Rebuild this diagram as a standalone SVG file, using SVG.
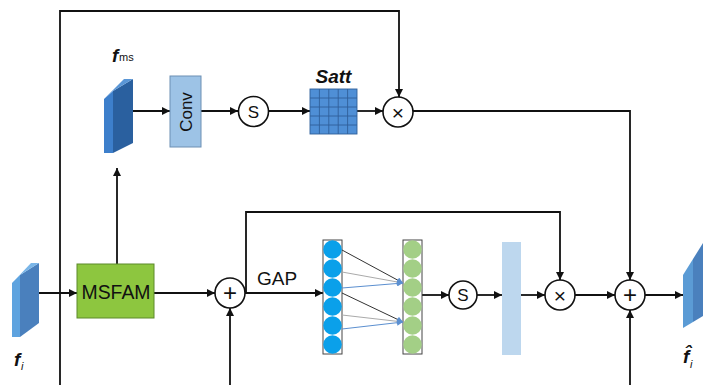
<svg xmlns="http://www.w3.org/2000/svg" width="703" height="385" viewBox="0 0 703 385">
<defs>
<marker id="ah" viewBox="0 0 10 10" refX="10" refY="5" markerUnits="userSpaceOnUse" markerWidth="9" markerHeight="8" orient="auto"><path d="M0,0 L10,5 L0,10 z" fill="#111"/></marker>
<marker id="ahb" viewBox="0 0 10 10" refX="10" refY="5" markerUnits="userSpaceOnUse" markerWidth="8" markerHeight="6" orient="auto"><path d="M0,0 L10,5 L0,10 z" fill="#5b8fd0"/></marker>
</defs>
<style>
.ln{fill:none;stroke:#111;stroke-width:1.8}
.arr{marker-end:url(#ah)}
.op{fill:#fff;stroke:#111;stroke-width:1.6}
.opt{font-family:"Liberation Sans",Arial,sans-serif;fill:#111;text-anchor:middle;dominant-baseline:central}
.lbl{font-family:"Liberation Sans",Arial,sans-serif;fill:#111}
.nn{stroke-width:1;fill:none}
</style>
<rect width="703" height="385" fill="#fff"/>

<g id="connectors">
<path class="ln arr" d="M60,385 V11 H399 V97"/>
<path class="ln arr" d="M133,111 H170"/>
<path class="ln arr" d="M201,111 H238"/>
<path class="ln arr" d="M269,111 H310"/>
<path class="ln arr" d="M357,111 H383"/>
<path class="ln arr" d="M413,111 H630 V280"/>
<path class="ln arr" d="M630,385 V310"/>
<path class="ln arr" d="M230,385 V308"/>
<path class="ln arr" d="M39,293 H77"/>
<path class="ln arr" d="M117,264 V168"/>
<path class="ln arr" d="M154,293 H215"/>
<path class="ln arr" d="M245,293 H323"/>
<path class="ln arr" d="M246,293 V212 H560 V280"/>
<path class="ln arr" d="M422,295 H449"/>
<path class="ln arr" d="M477,295 H502"/>
<path class="ln arr" d="M521,295 H545"/>
<path class="ln arr" d="M575,295 H615"/>
<path class="ln arr" d="M645,295 H683"/>
</g>

<g id="f_i">
<polygon points="12,283 20,275 20,337 12,337" fill="#5ea3df"/>
<polygon points="20,275 39,263 39,323 20,337" fill="#4a80bd"/>
<polygon points="12,283 31,263 39,263 20,275" fill="#7ab6e8"/>
<text class="lbl" x="14" y="366" font-size="19" font-style="italic" font-weight="bold">f<tspan font-size="11" font-weight="normal" x="21" y="370">i</tspan></text>
</g>

<g id="f_ms">
<polygon points="104,99 113,91 113,153 104,153" fill="#3d7fcb"/>
<polygon points="113,91 133,79 133,143 113,153" fill="#2a609f"/>
<polygon points="104,99 124,79 133,79 113,91" fill="#5a96d6"/>
<text class="lbl" x="112" y="62" font-size="19" font-style="italic" font-weight="bold">f<tspan font-size="11" font-style="normal" font-weight="normal" x="119" y="61">ms</tspan></text>
</g>

<g id="msfam">
<rect x="77" y="264" width="77" height="54" fill="#8dc63f" stroke="#5d8a2a" stroke-width="1"/>
<text class="opt" x="116" y="292" font-size="20" textLength="69" lengthAdjust="spacingAndGlyphs">MSFAM</text>
</g>

<g id="conv">
<rect x="170" y="76" width="31" height="71" fill="#9dc3e6" stroke="#6d8fb3" stroke-width="1"/>
<text class="opt" x="0" y="0" font-size="17" transform="translate(186,112) rotate(-90)">Conv</text>
</g>

<g id="s_top">
<circle class="op" cx="253.5" cy="111.5" r="15"/>
<text class="opt" x="253.5" y="112" font-size="17">S</text>
</g>

<g id="satt">
<rect x="310" y="89" width="47" height="45" fill="#4f8fd6"/>
<path d="M319.4,89 V134 M328.8,89 V134 M338.2,89 V134 M347.6,89 V134 M310,98 H357 M310,107 H357 M310,116 H357 M310,125 H357" stroke="#2f5f9a" stroke-width="0.9" fill="none"/>
<rect x="310" y="89" width="47" height="45" fill="none" stroke="#2f5f9a" stroke-width="0.9"/>
<text class="lbl" x="333.5" y="83" font-size="19" font-style="italic" font-weight="bold" text-anchor="middle" fill="#222">Satt</text>
</g>

<g id="mul_top">
<circle class="op" cx="398" cy="112" r="15"/>
<text class="opt" x="398" y="112" font-size="21">×</text>
</g>

<g id="add1">
<circle class="op" cx="230" cy="293" r="15"/>
<text class="opt" x="230" y="292" font-size="24">+</text>
</g>
<text class="lbl" id="gap" x="257" y="285" font-size="19">GAP</text>

<g id="nn">
<rect x="323" y="240" width="19" height="114" fill="#fff" stroke="#444" stroke-width="1"/>
<g fill="#0aa0ea">
<circle cx="332.5" cy="249.5" r="9.3"/><circle cx="332.5" cy="268.5" r="9.3"/><circle cx="332.5" cy="287.5" r="9.3"/>
<circle cx="332.5" cy="306.5" r="9.3"/><circle cx="332.5" cy="325.5" r="9.3"/><circle cx="332.5" cy="344.5" r="9.3"/>
</g>
<rect x="403" y="240" width="19" height="114" fill="#fff" stroke="#444" stroke-width="1"/>
<g fill="#a3cf86">
<circle cx="412.5" cy="249.5" r="9.3"/><circle cx="412.5" cy="268.5" r="9.3"/><circle cx="412.5" cy="287.5" r="9.3"/>
<circle cx="412.5" cy="306.5" r="9.3"/><circle cx="412.5" cy="325.5" r="9.3"/><circle cx="412.5" cy="344.5" r="9.3"/>
</g>
<path class="nn" stroke="#333" d="M342,250 L403,283" marker-end="url(#ahb)"/>
<path class="nn" stroke="#aaa" d="M342,272 L403,283" marker-end="url(#ahb)"/>
<path class="nn" stroke="#5b8fd0" d="M342,288 L403,283" marker-end="url(#ahb)"/>
<path class="nn" stroke="#333" d="M342,293 L403,322" marker-end="url(#ahb)"/>
<path class="nn" stroke="#aaa" d="M342,315 L403,322" marker-end="url(#ahb)"/>
<path class="nn" stroke="#5b8fd0" d="M342,329 L403,322" marker-end="url(#ahb)"/>
</g>

<g id="s_bot">
<circle class="op" cx="463" cy="295" r="14"/>
<text class="opt" x="463" y="295.5" font-size="17">S</text>
</g>

<g id="bar">
<rect x="502" y="242" width="19" height="113" fill="#bdd7ee"/>
</g>

<g id="mul_bot">
<circle class="op" cx="560" cy="295" r="15"/>
<text class="opt" x="560" y="295" font-size="21">×</text>
</g>

<g id="add2">
<circle class="op" cx="630" cy="295" r="15"/>
<text class="opt" x="630" y="294" font-size="24">+</text>
</g>

<g id="f_out">
<polygon points="683,275 693,259 693,322 683,328" fill="#5b9bd5"/>
<polygon points="693,259 703,243 703,316 693,322" fill="#4a80bd"/>
<text class="lbl" x="683" y="363" font-size="19" font-style="italic" font-weight="bold">f̂<tspan font-size="11" font-weight="normal" x="690" y="368">i</tspan></text>
</g>
</svg>
